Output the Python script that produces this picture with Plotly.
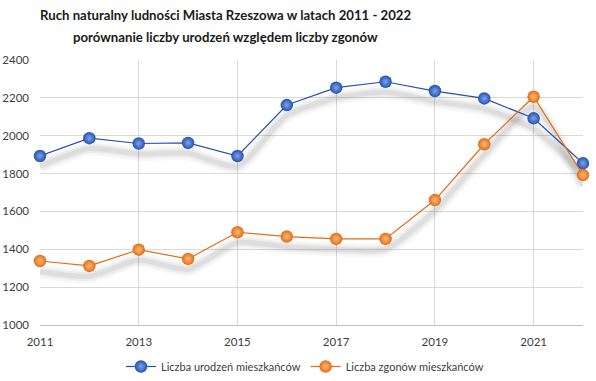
import plotly.graph_objects as go

years = list(range(2011, 2023))
births = [1893, 1987, 1959, 1962, 1893, 2162, 2254, 2285, 2236, 2197, 2092, 1854]
deaths = [1338, 1312, 1398, 1349, 1490, 1467, 1455, 1455, 1660, 1955, 2206, 1792]
x_ticks = [2011, 2013, 2015, 2017, 2019, 2021]

title_1 = "Ruch naturalny ludności Miasta Rzeszowa w latach 2011 - 2022"
title_2 = "porównanie liczby urodzeń względem liczby zgonów"
name_b = "Liczba urodzeń mieszkańców"
name_d = "Liczba zgonów mieszkańców"
blue = "#2452B0"
orange = "#E36C14"

fig = go.Figure()

# soft drop shadows (derived from data, offset downward)
shadow_offset = 55
for vals in (births, deaths):
    sh = [v - shadow_offset for v in vals]
    for w, op in ((14, 0.045), (9, 0.06), (5, 0.08)):
        fig.add_trace(go.Scatter(
            x=years, y=sh, mode="lines",
            line=dict(color=f"rgba(60,60,60,{op})", width=w, shape="spline", smoothing=0.6),
            hoverinfo="skip", showlegend=False, cliponaxis=False))

for vals, name, col, light in ((births, name_b, blue, "#7FA2EA"), (deaths, name_d, orange, "#FFBC80")):
    fig.add_trace(go.Scatter(
        x=years, y=vals, mode="lines+markers", name=name,
        line=dict(color=col, width=1.2),
        marker=dict(size=12.5, color=col, line=dict(width=0),
                    gradient=dict(type="radial", color=light)),
        cliponaxis=False))

for txt, ypx in ((title_1, 15), (title_2, 37)):
    fig.add_annotation(text=f"<b>{txt}</b>", xref="paper", yref="paper",
                       x=(225 - 40) / 543, y=(325 - ypx) / 265,
                       xanchor="center", yanchor="middle", showarrow=False,
                       font=dict(family="Lato, Arial", size=13.2, color="#1a1a1a"))

fig.update_layout(
    width=596, height=381,
    margin=dict(l=40, r=13, t=60, b=56, autoexpand=False),
    paper_bgcolor="white", plot_bgcolor="white",
    font=dict(family="Lato, Arial", color="#404040", size=11),
    showlegend=True,
    legend=dict(orientation="h", x=305/596, xanchor="center", xref="container",
                y=0, yanchor="bottom", yref="container",
                font=dict(size=11, color="#404040"),
                traceorder="normal"),
)
fig.update_xaxes(range=[2011, 2022], tickvals=x_ticks, automargin=False,
                 showgrid=True, gridcolor="#D9D9D9", gridwidth=1,
                 showline=True, linecolor="#BFBFBF", zeroline=False,
                 ticks="", ticklabelstandoff=6, tickfont=dict(size=11.5, color="#404040"))
fig.update_yaxes(range=[1000, 2400], dtick=200, showgrid=True, gridcolor="#D9D9D9",
                 zeroline=False, showline=False, ticks="", automargin=False,
                 ticklabelstandoff=10, tickfont=dict(size=11.5, color="#404040"))

fig.write_html("out.html", config={"displayModeBar": False},
               post_script="document.body.style.margin='0';document.body.style.padding='0';")
